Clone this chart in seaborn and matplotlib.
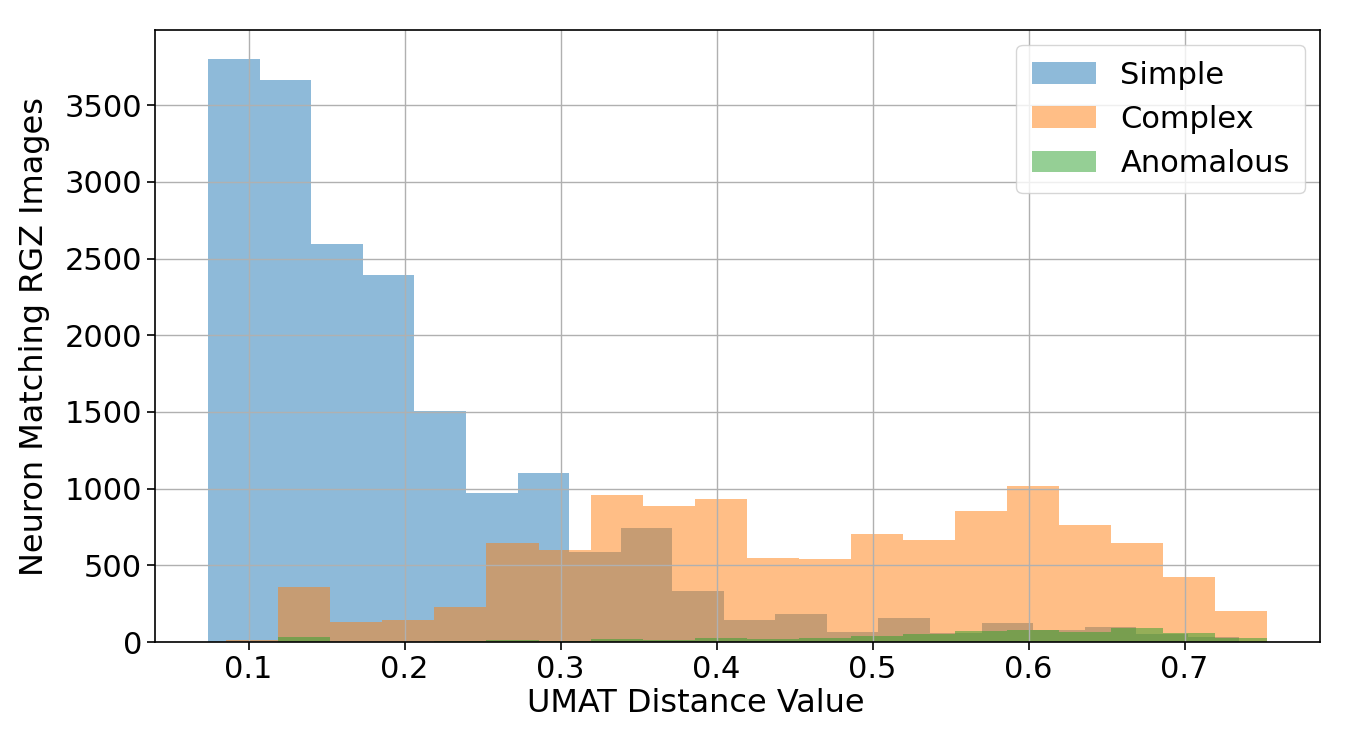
import numpy as np
import pandas as pd
import matplotlib
matplotlib.use("Agg")
import matplotlib.pyplot as plt
import seaborn as sns

# --- データ（画像から読み取った各ビンの件数） ---
labels = ["Simple", "Complex", "Anomalous"]

simple_range = (0.0741, 0.7351)
simple_counts = [3800, 3661, 2594, 2392, 1507, 974, 1105, 585, 740, 333,
                 142, 185, 65, 159, 61, 127, 80, 96, 55, 30]

complex_range = (0.0856, 0.7531)
complex_counts = [10, 357, 130, 141, 226, 646, 598, 957, 885, 935,
                  550, 539, 702, 668, 857, 1017, 766, 648, 426, 202]

anomalous_range = (0.0856, 0.7531)
anomalous_counts = [2, 30, 3, 3, 5, 15, 5, 22, 13, 29,
                    20, 29, 37, 50, 70, 76, 65, 90, 58, 25]

sns.set_style("ticks")
plt.rcParams['font.family'] = ['DejaVu Sans']
plt.rcParams['text.color'] = 'black'
plt.rcParams['axes.labelcolor'] = 'black'

fig, ax = plt.subplots(figsize=(13.5, 7.5), dpi=100)
colors = ['#1f77b4', '#ff7f0e', '#2ca02c']

series = [(simple_range, simple_counts), (complex_range, complex_counts),
          (anomalous_range, anomalous_counts)]
for (rng, counts), lab, col in zip(series, labels, colors):
    edges = np.linspace(rng[0], rng[1], len(counts) + 1)
    df = pd.DataFrame({'x': (edges[:-1] + edges[1:]) / 2, 'w': counts})
    sns.histplot(data=df, x='x', weights='w', bins=list(edges), color=col,
                 alpha=0.5, edgecolor='none', linewidth=0, label=lab, ax=ax)

# グリッドはバーの上に描く（元画像と同じ）
ax.set_axisbelow('line')
ax.grid(True, color='#b0b0b0', linewidth=1.0)
ax.set_yticks(range(0, 4000, 500))
ax.tick_params(labelsize=22, length=6, width=1.2, colors='black')
for s in ax.spines.values():
    s.set_color('black')
    s.set_linewidth(1.2)
ax.set_xlabel("UMAT Distance Value", fontsize=23)
ax.set_ylabel("Neuron Matching RGZ Images", fontsize=23)
ax.xaxis.set_label_coords(0.464, -0.075)
ax.yaxis.set_label_coords(-0.09, 0.5)
ax.legend(loc='upper right', fontsize=22, handlelength=2.1, handletextpad=0.8,
          borderpad=0.5, labelspacing=0.5)

plt.subplots_adjust(left=0.115, right=0.978, top=0.96, bottom=0.144)
plt.savefig("out.png", dpi=100)
plt.close()
